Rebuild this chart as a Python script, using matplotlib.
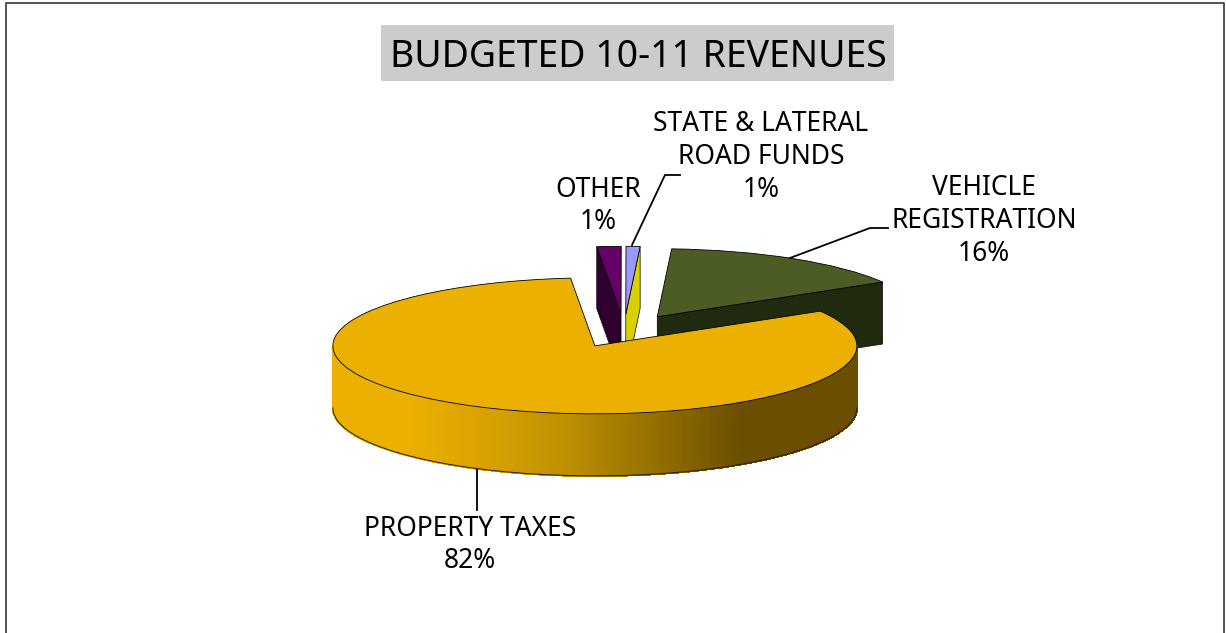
import matplotlib
matplotlib.use("Agg")
import matplotlib.pyplot as plt
from matplotlib.patches import Polygon, Rectangle
import numpy as np

plt.rcParams['font.family'] = ['Noto Sans', 'DejaVu Sans']

# slices, counter clockwise from the right hand edge of the vehicle slice
names = ["VEHICLE\nREGISTRATION", "STATE & LATERAL\nROAD FUNDS", "OTHER", "PROPERTY TAXES"]
values = [15.6, 0.86, 1.49, 82.05]
pct_labels = ["16%", "1%", "1%", "82%"]
top_colors = ["#4B5D25", "#9999FF", "#660066", "#ECB100"]
wall_colors = ["#1F2A0E", "#D8D000", "#2E0030", None]

W, H = 1226, 633
CX, CY = 624, 331      # pie centre before the explode
RX, RY = 262, 68       # squashed radius in pixels
DEPTH = 62 / RY


def shade(x_px):
    # colour of the rim of the big slice, light on the left and dark on the right
    stops = [333, 403, 500, 570, 677, 741, 856]
    r = [236, 236, 214, 187, 138, 107, 107]
    g = [177, 177, 159, 143, 104, 78, 78]
    return (np.interp(x_px, stops, r) / 255, np.interp(x_px, stops, g) / 255, 0)


fig = plt.figure(figsize=(W / 100, H / 100), dpi=100, facecolor="white")
ax = fig.add_axes([0, 0, 1, 1])
wedges, _ = ax.pie(values, explode=[0.245] * 4, startangle=30.7, colors=top_colors,
                   wedgeprops=dict(edgecolor="black", linewidth=0.6))
ax.set_aspect("auto")
ax.set_xlim((0 - CX) / RX, (W - CX) / RX)
ax.set_ylim((CY - H) / RY, (CY - 0) / RY)
ax.set_position([0, 0, 1, 1])


def rim(w, deg):
    t = np.radians(deg)
    return w.center[0] + w.r * np.cos(t), w.center[1] + w.r * np.sin(t)


def wall(w, deg, color, z):
    # flat side of an exploded slice, going from the centre to the rim
    ox, oy = w.center
    rx, ry = rim(w, deg)
    ax.add_patch(Polygon([(ox, oy), (rx, ry), (rx, ry - DEPTH), (ox, oy - DEPTH)], closed=True,
                         facecolor=color, edgecolor="black", linewidth=0.5, zorder=z))


# back slices first, the big one goes over them
wall(wedges[0], wedges[0].theta1, wall_colors[0], 1)
wedges[0].set_zorder(2)
wall(wedges[1], wedges[1].theta1, wall_colors[1], 1)
wedges[1].set_zorder(2)
wall(wedges[2], wedges[2].theta2, wall_colors[2], 1)
wedges[2].set_zorder(2)

big = wedges[3]
angles = np.arange(180, 360, 1.0)
for a in angles:
    x0, y0 = rim(big, a)
    x1, y1 = rim(big, a + 1.0)
    col = shade(CX + (x0 + x1) / 2 * RX)
    ax.add_patch(Polygon([(x0, y0), (x1, y1), (x1, y1 - DEPTH), (x0, y0 - DEPTH)], closed=True,
                         facecolor=col, edgecolor=col, linewidth=1.0, antialiased=False, zorder=3))
# outline of the rim
t = np.radians(np.linspace(180, 360, 200))
ox, oy = big.center
ax.plot(ox + np.cos(t), oy + np.sin(t) - DEPTH, color="#2A2000", linewidth=0.7, zorder=4)
big.set_zorder(5)

# labels, frame and title sit on a pixel sized overlay
top = fig.add_axes([0, 0, 1, 1])
top.set_xlim(0, W)
top.set_ylim(H, 0)
top.axis("off")

top.plot([6, 6, 1224, 1224], [H, 3, 3, H], color="#444444", linewidth=1.3)
top.add_patch(Rectangle((381, 25), 513, 56, facecolor="#CCCCCC", edgecolor="none"))
top.text(638, 57, "BUDGETED 10-11 REVENUES", ha="center", va="center", fontsize=26.9, color="black")

top.plot([888, 870, 790], [228, 228, 258], color="black", linewidth=1.3)
top.plot([680, 665, 632], [175, 175, 245], color="black", linewidth=1.3)
top.plot([477, 477], [470, 510], color="black", linewidth=1.3)

label_pos = [(984, 221), (761, 157), (598, 206), (470, 545)]
for name, pct, (lx, ly) in zip(names, pct_labels, label_pos):
    top.text(lx, ly, name + "\n" + pct, ha="center", va="center", fontsize=19,
             linespacing=1.22, color="black")

fig.savefig("out.png", dpi=100)
